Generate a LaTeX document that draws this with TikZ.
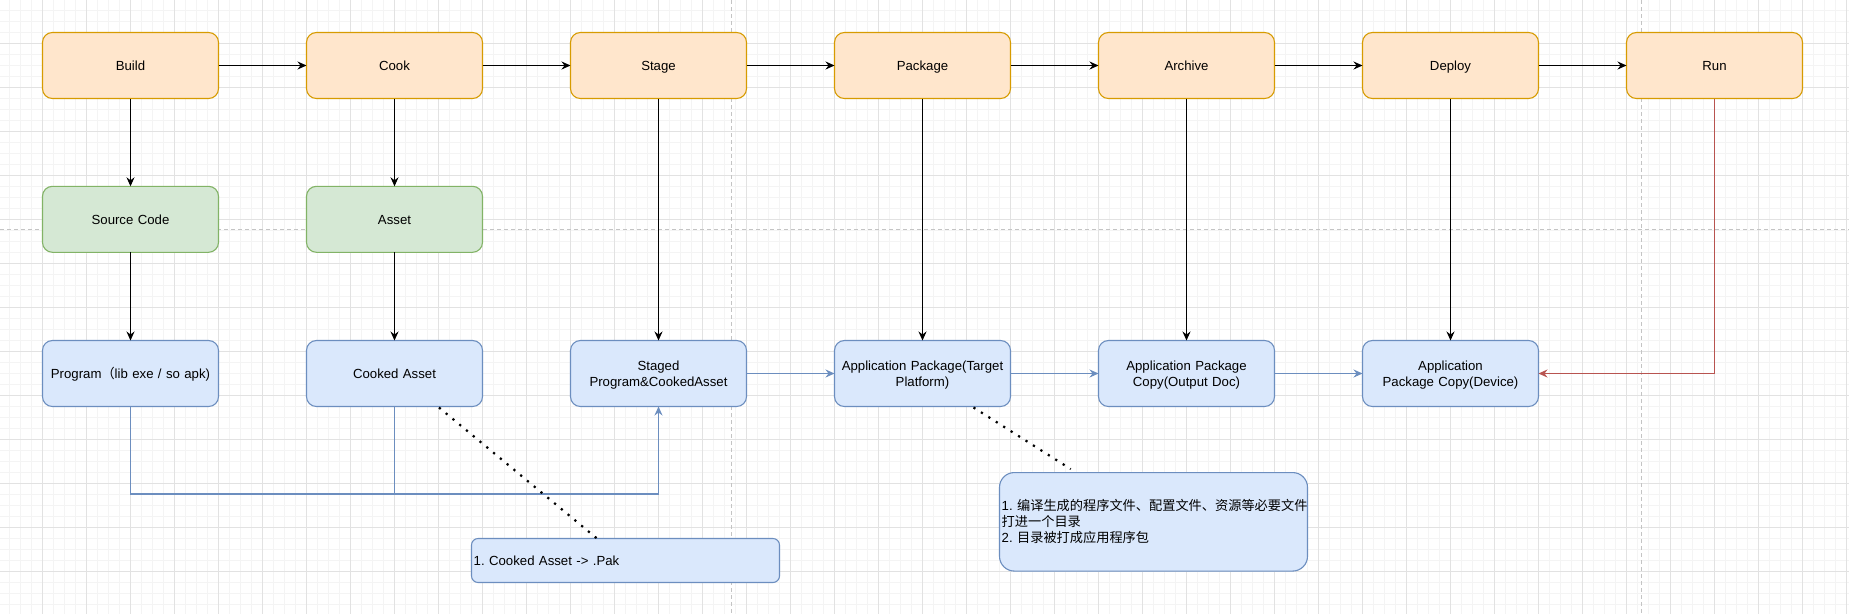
\documentclass[tikz,border=0pt]{standalone}
\usepackage{fontspec}
\setmainfont{Liberation Sans}
\newfontfamily\cjk{Noto Sans CJK SC}
\usetikzlibrary{arrows.meta}
\frenchspacing
\newcommand\boxstrut{\vrule height 12.6pt depth 3.2pt width 0pt\relax}
\definecolor{orfill}{HTML}{FFE6CC}
\definecolor{ordraw}{HTML}{D79B00}
\definecolor{grfill}{HTML}{D5E8D4}
\definecolor{grdraw}{HTML}{82B366}
\definecolor{blfill}{HTML}{DAE8FC}
\definecolor{bldraw}{HTML}{6C8EBF}
\definecolor{reddraw}{HTML}{B85450}
\definecolor{gridminor}{HTML}{F4F4F4}
\definecolor{gridmajor}{HTML}{E2E2E2}
\definecolor{pagebreak}{HTML}{C4C4C4}
\tikzset{
  box/.style={rounded corners=9.9pt, line width=1.1pt, minimum width=176pt, minimum height=66pt,
    inner sep=0pt, outer sep=0pt, align=center, text width=172pt,
    font=\fontsize{13.2}{15.84}\selectfont,
    execute at begin node={\boxstrut}, execute at end node={\boxstrut}},
  stagebox/.style={box, fill=orfill, draw=ordraw},
  srcbox/.style={box, fill=grfill, draw=grdraw},
  artbox/.style={box, fill=blfill, draw=bldraw},
  notebox/.style={fill=blfill, draw=bldraw, line width=1.1pt, minimum width=308pt,
    inner xsep=2.2pt, inner ysep=0pt, outer sep=0pt, text width=303.6pt, align=left,
    font=\fontsize{13.2}{16.3}\selectfont,
    execute at begin node={\boxstrut}, execute at end node={\boxstrut}},
  tip/.style={-{Stealth[length=9pt,width=8pt,inset=3pt]}},
  blackarrow/.style={tip, line width=1.1pt, draw=black},
  bluearrow/.style={tip, line width=1.1pt, draw=bldraw},
  blueline/.style={line width=1.1pt, draw=bldraw},
  redarrow/.style={tip, line width=1.1pt, draw=reddraw},
  dotline/.style={line width=2.2pt, dash pattern=on 2.2pt off 6.6pt, draw=black},
}
\begin{document}
\begin{tikzpicture}[x=1pt,y=-1pt]
\useasboundingbox (0,0) rectangle (1849,614);
\fill[white] (0,0) rectangle (1849,614);
% grid
\foreach \i in {0,...,168} \draw[gridminor, line width=1pt] ({-1.7+11*\i},0) -- ++(0,614);
\foreach \j in {0,...,56} \draw[gridminor, line width=1pt] (0,{-0.7+11*\j}) -- ++(1849,0);
\foreach \i in {0,...,42} \draw[gridmajor, line width=1pt] ({-1.7+44*\i},0) -- ++(0,614);
\foreach \j in {0,...,14} \draw[gridmajor, line width=1pt] (0,{-0.7+44*\j}) -- ++(1849,0);
% page breaks
\draw[pagebreak, line width=1pt, dash pattern=on 4pt off 3pt] (731.7,0) -- (731.7,614);
\draw[pagebreak, line width=1pt, dash pattern=on 4pt off 3pt] (1641.5,0) -- (1641.5,614);
\draw[pagebreak, line width=1pt, dash pattern=on 4pt off 3pt] (0,229.3) -- (1849,229.3);

% top row
\node[stagebox] (build)   at (130.5,65.5)  {Build};
\node[stagebox] (cook)    at (394.5,65.5)  {Cook};
\node[stagebox] (stage)   at (658.5,65.5)  {Stage};
\node[stagebox] (package) at (922.5,65.5)  {Package};
\node[stagebox] (archive) at (1186.5,65.5) {Archive};
\node[stagebox] (deploy)  at (1450.5,65.5) {Deploy};
\node[stagebox] (run)     at (1714.5,65.5) {Run};
% second row
\node[srcbox] (source) at (130.5,219.3) {Source Code};
\node[srcbox] (asset)  at (394.5,219.3) {Asset};
% third row
\node[artbox] (program) at (130.5,373.5)  {Program{\cjk （}lib exe / so apk)};
\node[artbox] (cooked)  at (394.5,373.5)  {Cooked Asset};
\node[artbox] (staged)  at (658.5,373.5)  {Staged\\Program\&CookedAsset};
\node[artbox] (apppkg)  at (922.5,373.5)  {Application Package(Target\\Platform)};
\node[artbox] (copyout) at (1186.5,373.5) {Application Package\\Copy(Output Doc)};
\node[artbox] (copydev) at (1450.5,373.5) {Application\\Package Copy(Device)};
% notes
\node[notebox, rounded corners=6.6pt, minimum height=44pt] (note1) at (625.5,560.5)
  {1. Cooked Asset -> .Pak};
\node[notebox, rounded corners=14.8pt, minimum height=98.5pt] (note2) at (1153.5,521.8)
  {1.~{\cjk 编译生成的程序文件、配置文件、资源等必要文件}\\{\cjk 打进一个目录}\\2.~{\cjk 目录被打成应用程序包}};

% top chain
\draw[blackarrow] (build) -- (cook);
\draw[blackarrow] (cook) -- (stage);
\draw[blackarrow] (stage) -- (package);
\draw[blackarrow] (package) -- (archive);
\draw[blackarrow] (archive) -- (deploy);
\draw[blackarrow] (deploy) -- (run);
% downward
\draw[blackarrow] (build) -- (source);
\draw[blackarrow] (source) -- (program);
\draw[blackarrow] (cook) -- (asset);
\draw[blackarrow] (asset) -- (cooked);
\draw[blackarrow] (stage) -- (staged);
\draw[blackarrow] (package) -- (apppkg);
\draw[blackarrow] (archive) -- (copyout);
\draw[blackarrow] (deploy) -- (copydev);
% blue flow
\coordinate (bus) at (0,494);
\draw[bluearrow] (program.south) -- (program.south |- bus) -| (staged.south);
\draw[blueline] (cooked.south) -- (cooked.south |- bus);
\draw[bluearrow] (staged) -- (apppkg);
\draw[bluearrow] (apppkg) -- (copyout);
\draw[bluearrow] (copyout) -- (copydev);
% red
\draw[redarrow] (run.south) |- (copydev.east);
% dotted note links
\draw[dotline] ([xshift=44.5pt,yshift=-1pt]cooked.south) -- ([xshift=-28.5pt]note1.north);
\draw[dotline] ([xshift=51pt,yshift=-1pt]apppkg.south) -- ([xshift=-82.8pt,yshift=3.5pt]note2.north);
\end{tikzpicture}
\end{document}
